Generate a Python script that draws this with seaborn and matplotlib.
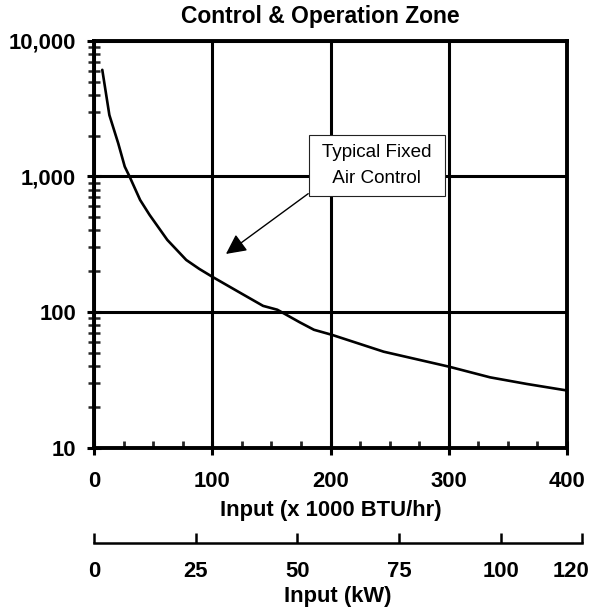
import matplotlib
matplotlib.use("Agg")
import matplotlib.pyplot as plt
import matplotlib.ticker as mticker
import matplotlib.transforms as mtransforms
import seaborn as sns
import pandas as pd

# ---- data ----
input_kbtu = [7, 13, 20.5, 26, 30, 39, 47, 56, 62, 78, 89, 100, 124, 143, 155, 174, 186, 201, 245, 300, 335, 366, 400]
air_ratio = [6100, 2830, 1750, 1180, 1000, 670, 520, 403, 340, 242, 208, 182, 138, 111, 104, 84, 74, 68, 51, 39.6, 33, 29.5, 26.4]
x_ticks = [0, 100, 200, 300, 400]
y_ticks = [10, 100, 1000, 10000]
kw_ticks = [0, 25, 50, 75, 100, 120]
title_text = "Control & Operation Zone"
xlabel_text = "Input (x 1000 BTU/hr)"
kw_label_text = "Input (kW)"
annot_text = " Typical Fixed \n Air Control "

df = pd.DataFrame({"x": input_kbtu, "y": air_ratio})

sns.set_theme(style="white")
plt.rcParams["font.family"] = ["Liberation Sans", "DejaVu Sans"]

W, H = 592, 610
fig = plt.figure(figsize=(W / 100, H / 100), dpi=100)

L, R, T, B = 94, 567, 40.7, 447.7
ax = fig.add_axes([L / W, 1 - B / H, (R - L) / W, (B - T) / H])

sns.lineplot(data=df, x="x", y="y", ax=ax, color="black", linewidth=1.9, legend=False)

ax.set_yscale("log")
ax.set_xlim(0, 400)
ax.set_ylim(10, 10000)
ax.set_xticks(x_ticks)
ax.set_yticks(y_ticks)
ax.yaxis.set_major_formatter(mticker.FuncFormatter(lambda v, p: f"{int(round(v)):,}"))
ax.yaxis.set_minor_locator(mticker.LogLocator(base=10, subs=range(2, 10)))
ax.yaxis.set_minor_formatter(mticker.NullFormatter())
ax.xaxis.set_minor_locator(mticker.MultipleLocator(25))

ax.grid(True, which="major", color="black", linewidth=2.2)
for s in ax.spines.values():
    s.set_color("black")
    s.set_linewidth(2.8)
    s.set_visible(True)

fs = 15.8
ax.tick_params(axis="x", which="major", direction="inout", length=10, width=2.2,
               pad=12, labelsize=fs, colors="black", bottom=True)
ax.tick_params(axis="x", which="minor", direction="in", length=5, width=2, bottom=True)
ax.tick_params(axis="y", which="major", direction="inout", length=10, width=2.2,
               pad=8, labelsize=fs, colors="black", left=True)
ax.tick_params(axis="y", which="minor", direction="inout", length=8.5, width=1.8, left=True)
for lab in ax.get_xticklabels() + ax.get_yticklabels():
    lab.set_fontweight("bold")

ax.set_xlabel(xlabel_text, fontsize=fs, fontweight="bold", color="black", labelpad=5.5)
ax.set_ylabel("")

ax.annotate(annot_text, xy=(111.6, 268), xytext=(239.3, 1203),
            ha="center", va="center", fontsize=13.6, color="black",
            multialignment="center", linespacing=1.72,
            bbox=dict(boxstyle="square,pad=0.45", fc="white", ec="#222222", lw=0.8),
            arrowprops=dict(arrowstyle="-|>,head_length=0.9,head_width=0.45",
                            color="black", lw=1.0, relpos=(0, 0),
                            shrinkA=0, shrinkB=0),
            zorder=5)

# secondary kW axis
KL, KR, KY = 94, 582, 542.7
ax2 = fig.add_axes([KL / W, 1 - KY / H, (KR - KL) / W, 0.0001])
ax2.patch.set_visible(False)
for side in ["top", "left", "right"]:
    ax2.spines[side].set_visible(False)
ax2.spines["bottom"].set_linewidth(1.8)
ax2.spines["bottom"].set_color("black")
ax2.set_xlim(0, 120)
ax2.set_xticks(kw_ticks)
ax2.set_yticks([])
ax2.tick_params(axis="x", direction="in", length=7, width=1.8, pad=13.5,
                labelsize=fs, colors="black", bottom=True)
kw_labels = ax2.get_xticklabels()
for lab in kw_labels:
    lab.set_fontweight("bold")
# the last label sits left of its tick in the reference (kept inside the figure)
shift = mtransforms.ScaledTranslation(-11 / 100, 0, fig.dpi_scale_trans)
ax2.xaxis.get_major_ticks()[-1].label1.set_transform(
    ax2.xaxis.get_major_ticks()[-1].label1.get_transform() + shift)
ax2.set_xlabel(kw_label_text, fontsize=fs, fontweight="bold", color="black", labelpad=2.5)

fig.text(320 / W, 1 - 23 / H, title_text, ha="center", va="baseline",
         fontsize=16.5, fontweight="bold", color="black")

fig.savefig("out.png", dpi=100, facecolor="white")
